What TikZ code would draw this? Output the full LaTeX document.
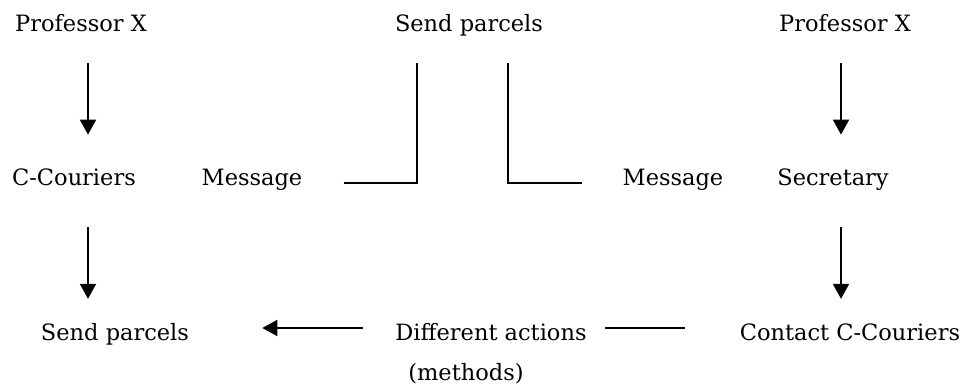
\documentclass[tikz,border=0pt]{standalone}
\usepackage{fontspec}
\setmainfont{DejaVu Serif}
\usetikzlibrary{arrows.meta}

\begin{document}
\begin{tikzpicture}[x=0.025cm, y=-0.025cm,
    lbl/.style={inner sep=0pt, anchor=base, text height=12pt, text depth=4pt,
      font=\fontsize{16}{19}\selectfont},
    wire/.style={line width=1.4pt},
    arr/.style={wire, -{Triangle[width=0.4cm,length=0.375cm]}}]
    \useasboundingbox (0,0) rectangle (965,387);
    % labels
    \node[lbl] (profL) at (81, 32) {Professor X};
    \node[lbl] (sendT) at (469, 32) {Send parcels};
    \node[lbl] (profR) at (845, 32) {Professor X};
    \node[lbl] (cour) at (74, 185) {C-Couriers};
    \node[lbl] (msgL) at (252, 185) {Message};
    \node[lbl] (msgR) at (673, 185) {Message};
    \node[lbl] (secr) at (833, 185) {Secretary};
    \node[lbl] (sendB) at (115, 340) {Send parcels};
    \node[lbl] (diff) at (491, 340) {Different actions};
    \node[lbl] (meth) at (466, 380) {(methods)};
    \node[lbl] (cont) at (850, 340) {Contact C-Couriers};
    % columns, rows and corners
    \coordinate (colL) at (88, 0);
    \coordinate (colR) at (841, 0);
    \coordinate (rowB) at (0, 328);
    \coordinate (kL) at (417, 183);
    \coordinate (kR) at (508, 183);
    % connectors
    \draw [arr, shorten <=0.635cm, shorten >=0.83cm] (profL.south -| colL) to (cour.north -| colL);
    \draw [arr, shorten <=0.635cm, shorten >=0.83cm] (profR.south -| colR) to (secr.north -| colR);
    \draw [arr, shorten <=0.91cm, shorten >=0.6cm] (cour.south -| colL) to (sendB.north -| colL);
    \draw [arr, shorten <=0.91cm, shorten >=0.6cm] (secr.south -| colR) to (cont.north -| colR);
    \draw [arr, shorten <=0.8cm, shorten >=1.825cm] (diff.west |- rowB) to (sendB.east |- rowB);
    \draw [wire, shorten <=0.45cm, shorten >=1.375cm] (diff.east |- rowB) to (cont.west |- rowB);
    \draw [wire, shorten <=1.025cm, shorten >=0.635cm] (msgL.east |- kL) -- (kL) -- (kL |- sendT.south);
    \draw [wire, shorten <=0.635cm, shorten >=1cm] (kR |- sendT.south) -- (kR) -- (msgR.west |- kR);
\end{tikzpicture}
\end{document}
